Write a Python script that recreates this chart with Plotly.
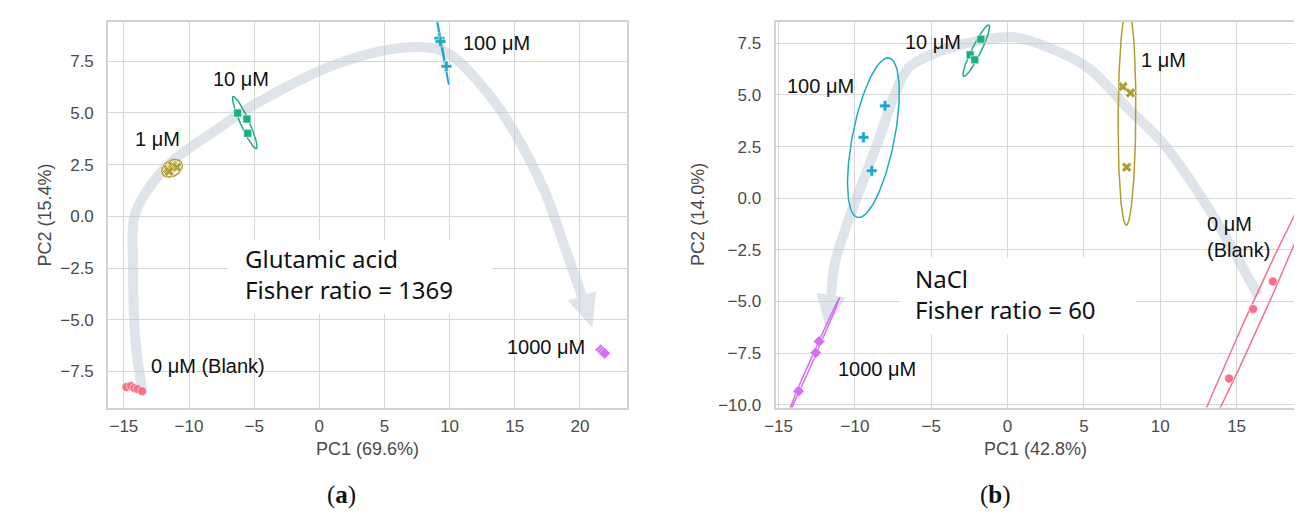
"""PCA score plots (glutamic acid / NaCl) with confidence ellipses and trend arrow."""
import numpy as np
import plotly.graph_objects as go

# --- data ---------------------------------------------------------------------
CONC = ["0 μM", "1 μM", "10 μM", "100 μM", "1000 μM"]
COLORS = ["#f7718a", "#b09d30", "#1fae7c", "#1ea9c8", "#d66ef2"]
SYMBOLS = ["circle", "x", "square", "cross", "diamond"]

# (a) glutamic acid
GLU_PC1 = [
    [-14.8, -14.45, -14.2, -13.95, -13.6],
    [-11.65, -11.27, -10.94, -11.52],
    [-6.27, -5.56, -5.49],
    [9.22, 9.3, 9.75],
    [21.6, 21.75, 21.9],
]
GLU_PC2 = [
    [-8.25, -8.2, -8.3, -8.35, -8.45],
    [2.29, 2.45, 2.37, 2.17],
    [4.99, 4.70, 4.01],
    [8.6, 8.45, 7.25],
    [-6.45, -6.55, -6.62],
]
GLU_ELL_CX = [-14.2, -11.3, -5.72, 9.43, 21.75]
GLU_ELL_CY = [-8.3, 2.32, 4.53, 8.1, -6.54]
GLU_ELL_A = [0.75, 0.8, 1.55, 1.81, 0.25]
GLU_ELL_B = [0.12, 0.4, 0.3, 0.05, 0.07]
GLU_ELL_ANG = [-8, 12, -54, -74, -25]

# (b) NaCl
NACL_PC1 = [
    [17.38, 16.08, 14.51],
    [7.55, 8.05, 7.8],
    [-1.75, -2.45, -2.15],
    [-8.03, -9.44, -8.9],
    [-12.35, -12.57, -13.7],
]
NACL_PC2 = [
    [-4.03, -5.36, -8.73],
    [5.4, 5.1, 1.5],
    [7.7, 6.94, 6.7],
    [4.47, 2.95, 1.33],
    [-6.93, -7.48, -9.34],
]
NACL_ELL_CX = [16.0, 7.82, -2.05, -8.79, -12.87]
NACL_ELL_CY = [-6.03, 4.0, 7.14, 2.93, -7.92]
NACL_ELL_A = [9.0, 5.3, 1.5, 4.0, 3.63]
NACL_ELL_B = [0.46, 0.58, 0.28, 1.35, 0.09]
NACL_ELL_ANG = [58.5, 89.5, 55.6, 74.2, 59]

# trend arrows: body waypoints (ending at the head base) and head tip
GLU_ARROW_X = [-13.6, -14.1, -14.3, -14.19, -13.3, -11.4, -7.85, -4.8, 1.5, 6.9,
               9.7, 12.74, 15.0, 17.3, 18.9, 20.15]
GLU_ARROW_Y = [-8.35, -6.1, -2.3, 0.0, 1.16, 2.6, 4.2, 5.47, 7.4, 8.17,
               7.93, 6.1, 4.04, 1.2, -1.6, -3.84]
GLU_ARROW_TIP = (20.94, -5.35)
NACL_ARROW_X = [16.4, 14.25, 12.95, 10.3, 7.8, 5.3, 2.5, 0.3, -2.0, -4.5,
                -6.5, -7.4, -8.46, -10.4, -11.3, -11.56]
NACL_ARROW_Y = [-4.7, -1.83, -0.24, 2.56, 4.42, 6.3, 7.35, 7.8, 7.6, 7.1,
                6.3, 5.0, 2.8, -1.03, -3.1, -4.7]
NACL_ARROW_TIP = (-11.93, -6.46)

# --- layout geometry ----------------------------------------------------------
FIG_W, FIG_H = 1302, 517
XPIX = {"x": (90, 613), "x2": (763, 1288)}
YPIX = (14, 405)  # top, bottom in page pixels
RANGES = {
    "x": ([-16.2, 23.6], [-9.24, 9.4]),
    "x2": ([-15.2, 18.9], [-10.13, 8.54]),
}

BAND = "rgb(192,200,214)"
TXT = "Liberation Sans"


def px_per_unit(ax):
    (x0, x1), (y0, y1) = RANGES[ax]
    sx = (XPIX[ax][1] - XPIX[ax][0]) / (x1 - x0)
    sy = (YPIX[1] - YPIX[0]) / (y1 - y0)
    return sx, sy


def ellipse(cx, cy, a, b, ang, n=160):
    t = np.linspace(0, 2 * np.pi, n)
    th = np.radians(ang)
    x = cx + a * np.cos(th) * np.cos(t) - b * np.sin(th) * np.sin(t)
    y = cy + a * np.sin(th) * np.cos(t) + b * np.cos(th) * np.sin(t)
    return x, y


def add_arrow(fig, ax, xs, ys, tip, head_len=34, head_w=30):
    xa, ya = ("x", "y") if ax == "x" else ("x2", "y2")
    sx, sy = px_per_unit(ax)
    bx, by = xs[-1], ys[-1]
    # direction base -> tip in pixel space (y up)
    dx, dy = (tip[0] - bx) * sx, (tip[1] - by) * sy
    norm = np.hypot(dx, dy)
    ux, uy = dx / norm, dy / norm
    tx, ty = bx + ux * head_len / sx, by + uy * head_len / sy
    px, py = -uy, ux
    hx = [bx + px * head_w / 2 / sx, tx, bx - px * head_w / 2 / sx]
    hy = [by + py * head_w / 2 / sy, ty, by - py * head_w / 2 / sy]
    fig.add_trace(go.Scatter(
        x=xs, y=ys, mode="lines", xaxis=xa, yaxis=ya,
        line=dict(color=BAND, width=10, shape="spline", smoothing=1.0),
        opacity=0.5, hoverinfo="skip", showlegend=False,
    ))
    fig.add_trace(go.Scatter(
        x=hx, y=hy, mode="lines", fill="toself", fillcolor=BAND,
        line=dict(width=0), xaxis=xa, yaxis=ya, opacity=0.5,
        hoverinfo="skip", showlegend=False,
    ))


def add_panel(fig, ax, pc1, pc2, ecx, ecy, ea, eb, eang):
    xa, ya = ("x", "y") if ax == "x" else ("x2", "y2")
    for i, name in enumerate(CONC):
        ex, ey = ellipse(ecx[i], ecy[i], ea[i], eb[i], eang[i])
        fig.add_trace(go.Scatter(
            x=ex, y=ey, mode="lines", xaxis=xa, yaxis=ya,
            line=dict(color=COLORS[i], width=1.5),
            hoverinfo="skip", showlegend=False,
        ))
        fig.add_trace(go.Scatter(
            x=pc1[i], y=pc2[i], mode="markers", xaxis=xa, yaxis=ya,
            name=name,
            marker=dict(symbol=SYMBOLS[i], size=9 if i != 2 else 8,
                        color=COLORS[i], line=dict(width=0.6, color="white")),
            showlegend=False,
        ))


fig = go.Figure()
add_arrow(fig, "x", GLU_ARROW_X, GLU_ARROW_Y, GLU_ARROW_TIP)
add_arrow(fig, "x2", NACL_ARROW_X, NACL_ARROW_Y, NACL_ARROW_TIP)
add_panel(fig, "x", GLU_PC1, GLU_PC2, GLU_ELL_CX, GLU_ELL_CY,
          GLU_ELL_A, GLU_ELL_B, GLU_ELL_ANG)
add_panel(fig, "x2", NACL_PC1, NACL_PC2, NACL_ELL_CX, NACL_ELL_CY,
          NACL_ELL_A, NACL_ELL_B, NACL_ELL_ANG)

# white boxes behind the compound/Fisher text (cover the grid only)
fig.add_shape(type="rect", xref="x", yref="y", x0=-6.96, x1=13.2, y0=-4.71, y1=-1.14,
              fillcolor="white", line_width=0, layer="between")
fig.add_shape(type="rect", xref="x2", yref="y2", x0=-7.06, x1=8.37, y0=-6.57, y1=-2.87,
              fillcolor="white", line_width=0, layer="between")

axis_common = dict(
    showgrid=True, gridcolor="#d7d7d7", gridwidth=1.3,
    zeroline=False, showline=True, linecolor="#d2d2d2", linewidth=2,
    mirror=True, ticks="",
    tickfont=dict(family=TXT, size=17, color="#4a4a4a"),
)


def dom_x(ax):
    return [XPIX[ax][0] / FIG_W, XPIX[ax][1] / FIG_W]


dom_y = [(FIG_H - YPIX[1]) / FIG_H, (FIG_H - YPIX[0]) / FIG_H]

fig.update_layout(
    width=FIG_W, height=FIG_H,
    margin=dict(l=0, r=0, t=0, b=0),
    paper_bgcolor="white", plot_bgcolor="white",
    showlegend=False,
    xaxis=dict(axis_common, domain=dom_x("x"), range=RANGES["x"][0], dtick=5,
               anchor="y", ticklabelstandoff=2),
    yaxis=dict(axis_common, domain=dom_y, range=RANGES["x"][1], dtick=2.5,
               tickformat=".1f", anchor="x", ticklabelstandoff=9),
    xaxis2=dict(axis_common, domain=dom_x("x2"), range=RANGES["x2"][0], dtick=5,
                anchor="y2", ticklabelstandoff=2),
    yaxis2=dict(axis_common, domain=dom_y, range=RANGES["x2"][1], dtick=2.5,
                tickformat=".1f", anchor="x2", ticklabelstandoff=9),
)

LBL = dict(family=TXT, size=20, color="#111111")
labels = [
    ("x", "y", -13.1, -7.24, "0 μM (Blank)", "left"),
    ("x", "y", -12.45, 3.72, "1 μM", "center"),
    ("x", "y", -6.0, 6.66, "10 μM", "center"),
    ("x", "y", 10.9, 8.4, "100 μM", "left"),
    ("x", "y", 20.58, -6.3, "1000 μM", "right"),
    ("x2", "y2", 12.95, -1.86, "0 μM<br>(Blank)", "left"),
    ("x2", "y2", 10.2, 6.7, "1 μM", "center"),
    ("x2", "y2", -2.94, 7.58, "10 μM", "right"),
    ("x2", "y2", -12.25, 5.43, "100 μM", "center"),
    ("x2", "y2", -8.56, -8.28, "1000 μM", "center"),
]
for xr, yr, x, y, t, anchor in labels:
    fig.add_annotation(xref=xr, yref=yr, x=x, y=y, text=t, showarrow=False,
                       xanchor=anchor, yanchor="middle", align="left", font=LBL)

BOX = dict(family="Noto Sans", size=24, color="#111111")
fig.add_annotation(xref="x", yref="y", x=-5.87, y=-2.81,
                   text="Glutamic acid<br>Fisher ratio = 1369", showarrow=False,
                   xanchor="left", yanchor="middle", align="left", font=BOX)
fig.add_annotation(xref="x2", yref="y2", x=-6.18, y=-4.65,
                   text="NaCl<br>Fisher ratio = 60", showarrow=False,
                   xanchor="left", yanchor="middle", align="left", font=BOX)

TITLE = dict(family=TXT, size=18, color="#4a4a4a")
for x, y, t, ang in [
    ((90 + 613) / 2, 447, "PC1 (69.6%)", 0),
    ((763 + 1288) / 2, 447, "PC1 (42.8%)", 0),
    (26, 209.5, "PC2 (15.4%)", -90),
    (684, 209.5, "PC2 (14.0%)", -90),
]:
    fig.add_annotation(xref="paper", yref="paper", x=x / FIG_W, y=1 - y / FIG_H,
                       text=t, showarrow=False, textangle=ang,
                       xanchor="center", yanchor="middle", font=TITLE)

CAP = dict(family="Liberation Serif", size=25, color="#111111")
for x, t in [(325, "(<b>a</b>)"), (985, "(<b>b</b>)")]:
    fig.add_annotation(xref="paper", yref="paper", x=x / FIG_W, y=1 - 494 / FIG_H,
                       text=t, showarrow=False, xanchor="center", yanchor="middle",
                       font=CAP)

fig.write_html("out.html")
